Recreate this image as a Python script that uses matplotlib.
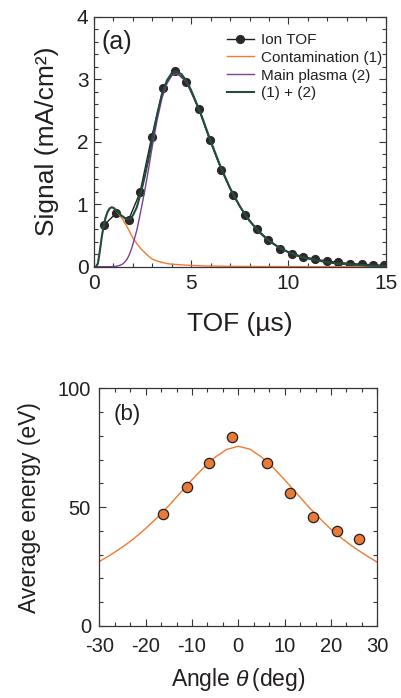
import matplotlib
matplotlib.use('Agg')
import matplotlib.pyplot as plt
from matplotlib.ticker import MultipleLocator
import numpy as np

plt.rcParams['font.family'] = ['Liberation Sans', 'DejaVu Sans']
plt.rcParams['mathtext.fontset'] = 'custom'
plt.rcParams['mathtext.rm'] = 'Liberation Sans'
plt.rcParams['mathtext.it'] = 'Liberation Sans:italic'
plt.rcParams['axes.unicode_minus'] = False

# (a) ion TOF signal
tof_pts = [0.53, 1.15, 1.78, 2.37, 2.97, 3.57, 4.15, 4.75, 5.38, 5.95, 6.55, 7.15, 7.77,
           8.37, 8.97, 9.57, 10.17, 10.77, 11.37, 11.97, 12.57, 13.17, 13.77, 14.37, 14.92]
sig_pts = [0.67, 0.86, 0.75, 1.19, 2.08, 2.86, 3.13, 2.96, 2.53, 2.03, 1.55, 1.15, 0.83,
           0.60, 0.43, 0.29, 0.21, 0.16, 0.12, 0.09, 0.07, 0.05, 0.04, 0.03, 0.02]

tof_fit = [0, 0.1, 0.2, 0.3, 0.4, 0.5, 0.6, 0.7, 0.8, 0.9, 1.0, 1.1, 1.2, 1.3, 1.4, 1.5,
           1.6, 1.7, 1.8, 1.9, 2.0, 2.2, 2.4, 2.6, 2.8, 3.0, 3.25, 3.5, 3.75, 4.0, 4.25,
           4.5, 4.75, 5.0, 5.5, 6.0, 6.5, 7.0, 7.5, 8.0, 8.5, 9.0, 9.5, 10.0, 10.5, 11.0,
           11.5, 12.0, 12.5, 13.0, 14.0, 15.0]
contam = [0, 0, 0.05, 0.25, 0.48, 0.66, 0.79, 0.88, 0.93, 0.95, 0.94, 0.91, 0.87, 0.83,
          0.79, 0.75, 0.69, 0.64, 0.58, 0.52, 0.46, 0.37, 0.29, 0.23, 0.17, 0.12, 0.09,
          0.07, 0.05, 0.04, 0.035, 0.03, 0.025, 0.02, 0.015, 0.01, 0.008, 0.006, 0.005,
          0.004, 0.003, 0.003, 0.002, 0.002, 0.002, 0.001, 0.001, 0.001, 0.001, 0.001, 0, 0]
main = [0, 0, 0, 0, 0, 0, 0, 0, 0, 0.001, 0.003, 0.005, 0.01, 0.02, 0.03, 0.05, 0.08,
        0.12, 0.18, 0.26, 0.36, 0.58, 0.88, 1.20, 1.55, 1.93, 2.35, 2.70, 2.93, 3.06,
        3.09, 3.05, 2.95, 2.80, 2.43, 2.00, 1.60, 1.25, 0.96, 0.73, 0.55, 0.41, 0.31,
        0.23, 0.17, 0.13, 0.10, 0.07, 0.05, 0.04, 0.02, 0.01]
total = np.array(contam) + np.array(main)

# (b) average energy vs angle
ang_pts = [-16.2, -11.1, -6.3, -1.3, 6.2, 11.2, 16.2, 21.2, 26.1]
en_pts = [47.2, 58.3, 68.7, 79.6, 68.7, 56.1, 46.0, 40.0, 36.7]
ang_fit = [-30, -27.5, -25, -22.5, -20, -17.5, -15, -12.5, -10, -7.5, -5, -2.5, 0,
           2.5, 5, 7.5, 10, 12.5, 15, 17.5, 20, 22.5, 25, 27.5, 30]
en_fit = [27.1, 30.0, 33.2, 36.8, 41.0, 45.6, 50.6, 56.0, 61.5, 66.6, 71.0, 74.3, 75.6,
          74.4, 71.1, 66.7, 61.5, 56.0, 50.5, 45.4, 40.7, 36.6, 33.0, 29.8, 26.8]

ink = '#231f20'
orange = '#f07a32'

fig = plt.figure(figsize=(4.01, 6.98), dpi=100)
ax1 = fig.add_axes([0.2344, 0.6179, 0.7274, 0.3582])
ax2 = fig.add_axes([0.2476, 0.1032, 0.6933, 0.3405])

ax1.plot(tof_pts, sig_pts, color=ink, lw=1.0, marker='o', ms=5.6, mfc='#2e2729',
         mec='#2e2729', label='Ion TOF')
ax1.plot(tof_fit, contam, color=orange, lw=1.0, label='Contamination (1)')
ax1.plot(tof_fit, main, color='#7b3f98', lw=1.0, label='Main plasma (2)')
ax1.plot(tof_fit, total, color='#1f4e3d', lw=1.5, label='(1) + (2)')
ax1.set_xlim(0, 15)
ax1.set_ylim(0, 4)
ax1.xaxis.set_major_locator(MultipleLocator(5))
ax1.xaxis.set_minor_locator(MultipleLocator(1))
ax1.yaxis.set_major_locator(MultipleLocator(1))
ax1.yaxis.set_minor_locator(MultipleLocator(0.2))
ax1.set_xlabel('TOF (\u00b5s)', fontsize=19, color=ink, labelpad=14)
ax1.set_ylabel('Signal (mA/cm\u00b2)', fontsize=19, color=ink, labelpad=13)
ax1.text(0.027, 0.9, '(a)', transform=ax1.transAxes, fontsize=18, color=ink,
         ha='left', va='center')
ax1.legend(loc='upper left', bbox_to_anchor=(0.455, 0.935), frameon=False, fontsize=11,
           handlelength=1.8, handletextpad=0.45, labelspacing=0.25, borderpad=0,
           borderaxespad=0, labelcolor=ink)

ax2.plot(ang_fit, en_fit, color=orange, lw=1.0)
ax2.plot(ang_pts, en_pts, ls='none', marker='o', ms=7.4, mfc='#ea7a3a', mec=ink, mew=0.9)
ax2.set_xlim(-30, 30)
ax2.set_ylim(0, 100)
ax2.xaxis.set_major_locator(MultipleLocator(10))
ax2.xaxis.set_minor_locator(MultipleLocator(10 / 3))
ax2.yaxis.set_major_locator(MultipleLocator(50))
ax2.yaxis.set_minor_locator(MultipleLocator(10))
ax2.set_xlabel(r'Angle $\theta\,$(deg)', fontsize=16.5, color=ink, labelpad=7)
ax2.set_ylabel('Average energy (eV)', fontsize=16.5, color=ink, labelpad=12)
ax2.text(0.05, 0.888, '(b)', transform=ax2.transAxes, fontsize=16, color=ink,
         ha='left', va='center')

for ax, fs in ((ax1, 15), (ax2, 14.5)):
    ax.tick_params(which='both', direction='in', top=True, right=True, colors='#3a3436',
                   labelcolor=ink, labelsize=fs, width=0.8)
    ax.tick_params(which='major', length=5)
    ax.tick_params(which='minor', length=3)
    for s in ax.spines.values():
        s.set_color('#3a3436')
        s.set_linewidth(0.9)
ax1.tick_params(axis='x', which='major', pad=5)
ax1.tick_params(axis='y', which='major', pad=4)
ax2.tick_params(axis='x', which='major', pad=8)
ax2.tick_params(axis='y', which='major', pad=6)

fig.savefig('out.png', dpi=100, facecolor='white')
